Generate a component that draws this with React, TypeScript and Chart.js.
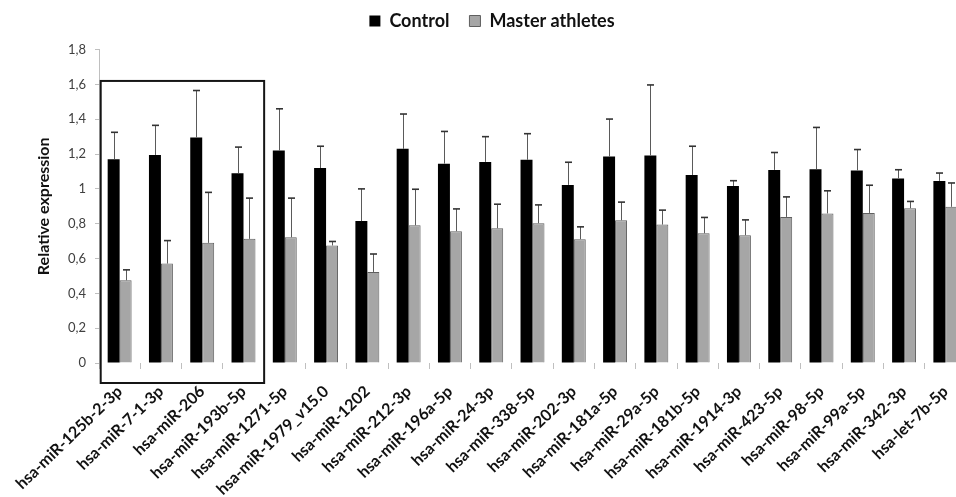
import React, { useEffect, useRef } from "react";
import { Chart, registerables } from "chart.js";

Chart.register(...registerables);

const CATEGORIES = [
  "hsa-miR-125b-2-3p",
  "hsa-miR-7-1-3p",
  "hsa-miR-206",
  "hsa-miR-193b-5p",
  "hsa-miR-1271-5p",
  "hsa-miR-1979_v15.0",
  "hsa-miR-1202",
  "hsa-miR-212-3p",
  "hsa-miR-196a-5p",
  "hsa-miR-24-3p",
  "hsa-miR-338-5p",
  "hsa-miR-202-3p",
  "hsa-miR-181a-5p",
  "hsa-miR-29a-5p",
  "hsa-miR-181b-5p",
  "hsa-miR-1914-3p",
  "hsa-miR-423-5p",
  "hsa-miR-98-5p",
  "hsa-miR-99a-5p",
  "hsa-miR-342-3p",
  "hsa-let-7b-5p",
];

const CONTROL = [
  1.17, 1.195, 1.295, 1.09, 1.22, 1.12, 0.815, 1.23, 1.145, 1.155, 1.167,
  1.023, 1.186, 1.192, 1.08, 1.017, 1.109, 1.113, 1.106, 1.06, 1.046,
];
const CONTROL_ERR = [
  0.155, 0.17, 0.27, 0.15, 0.24, 0.125, 0.185, 0.2, 0.185, 0.145, 0.15, 0.13,
  0.215, 0.405, 0.165, 0.03, 0.1, 0.24, 0.12, 0.05, 0.045,
];

const MASTER = [
  0.475, 0.571, 0.69, 0.713, 0.722, 0.675, 0.523, 0.791, 0.757, 0.774, 0.803,
  0.711, 0.82, 0.795, 0.745, 0.734, 0.839, 0.859, 0.862, 0.889, 0.897,
];
const MASTER_ERR = [
  0.06, 0.132, 0.29, 0.234, 0.225, 0.023, 0.103, 0.207, 0.128, 0.138, 0.105,
  0.071, 0.104, 0.083, 0.091, 0.088, 0.115, 0.13, 0.159, 0.039, 0.137,
];

const Y_TICK_LABELS = ["0", "0,2", "0,4", "0,6", "0,8", "1", "1,2", "1,4", "1,6", "1,8"];

// highlighted group: first four miRNAs, box top value
const BOX_FIRST = 0;
const BOX_LAST = 3;
const BOX_TOP = 1.62;

const FONT = "Lato, 'Open Sans', sans-serif";

const ERRORS = [CONTROL_ERR, MASTER_ERR];

const extrasPlugin = {
  id: "extras",
  afterDatasetsDraw(chart: any) {
    const { ctx } = chart;
    const x = chart.scales.x;
    const y = chart.scales.y;
    ctx.save();
    // error bars (upper only)
    chart.data.datasets.forEach((ds: any, di: number) => {
      const meta = chart.getDatasetMeta(di);
      const errs = ERRORS[di];
      meta.data.forEach((bar: any, i: number) => {
        const v = ds.data[i];
        const e = errs[i];
        const px = Math.round(bar.x) + 0.5;
        const top = y.getPixelForValue(v + e);
        const base = y.getPixelForValue(v);
        ctx.strokeStyle = "#5a5a5a";
        ctx.lineWidth = 1;
        ctx.beginPath();
        ctx.moveTo(px, base);
        ctx.lineTo(px, top);
        ctx.stroke();
        ctx.strokeStyle = "#333";
        ctx.lineWidth = 1.6;
        ctx.beginPath();
        ctx.moveTo(px - 3.5, top);
        ctx.lineTo(px + 3.5, top);
        ctx.stroke();
      });
    });
    // y axis extension below zero
    ctx.strokeStyle = "#bfbfbf";
    ctx.lineWidth = 1;
    ctx.beginPath();
    ctx.moveTo(x.left + 0.5, y.bottom);
    ctx.lineTo(x.left + 0.5, y.bottom + 6);
    ctx.stroke();
    // highlight box
    const cw = x.width / CATEGORIES.length;
    const left = x.getPixelForValue(BOX_FIRST) - cw / 2 + 1.7;
    const right = x.getPixelForValue(BOX_LAST) + cw / 2;
    const top = y.getPixelForValue(BOX_TOP);
    const bottom = y.getPixelForValue(0) + 20;
    ctx.strokeStyle = "#151515";
    ctx.lineWidth = 2;
    ctx.strokeRect(left, top, right - left, bottom - top);
    ctx.restore();
  },
};

export default function App() {
  const ref = useRef<HTMLCanvasElement>(null);
  useEffect(() => {
    if (!ref.current) return;
    const chart = new Chart(ref.current, {
      type: "bar",
      data: {
        labels: CATEGORIES,
        datasets: [
          {
            label: "Control",
            data: CONTROL,
            backgroundColor: "#000000",
            borderWidth: 0,
            categoryPercentage: 0.58,
            barPercentage: 1,
          },
          {
            label: "Master athletes",
            data: MASTER,
            backgroundColor: "#a6a6a6",
            borderColor: "#5f5f5f",
            borderWidth: 1,
            categoryPercentage: 0.58,
            barPercentage: 1,
          },
        ],
      },
      options: {
        responsive: false,
        animation: false,
        layout: { padding: { left: 18, right: 16, top: -8, bottom: 0 } },
        plugins: {
          legend: {
            position: "top",
            labels: {
              boxWidth: 11,
              boxHeight: 11,
              padding: 20,
              color: "#111",
              font: { family: FONT, size: 18, weight: "bold" },
            },
          },
          subtitle: {
            display: true,
            text: "",
            position: "top",
            weight: 500,
            padding: 0,
            font: { size: 8 },
          },
          tooltip: { enabled: false },
        },
        scales: {
          x: {
            afterFit: (s: any) => {
              s.height = 134;
            },
            grid: {
              display: true,
              drawOnChartArea: false,
              drawTicks: true,
              tickLength: 6,
              color: "#bfbfbf",
              offset: true,
            },
            border: { display: false },
            ticks: {
              autoSkip: false,
              minRotation: 44,
              maxRotation: 44,
              padding: 13,
              color: "#111",
              font: { family: FONT, size: 16, weight: "bold" },
            },
          },
          y: {
            min: 0,
            max: 1.8,
            afterFit: (s: any) => {
              s.width = 81;
            },
            grid: {
              display: true,
              drawOnChartArea: false,
              drawTicks: true,
              tickLength: 4,
              color: "#bfbfbf",
            },
            border: { display: true, color: "#bfbfbf" },
            ticks: {
              stepSize: 0.2,
              padding: 9,
              color: "#404040",
              font: { family: FONT, size: 13 },
              callback: (_v: any, i: number) => Y_TICK_LABELS[i],
            },
            title: {
              display: true,
              text: "Relative expression",
              color: "#111",
              padding: { top: 16, bottom: 0 },
              font: { family: FONT, size: 16, weight: "bold" },
            },
          },
        },
      },
      plugins: [extrasPlugin],
    });
    return () => chart.destroy();
  }, []);
  return (
    <div
      style={{
        position: "fixed",
        left: 0,
        top: 0,
        width: 956,
        height: 497,
        overflow: "hidden",
        background: "#fff",
      }}
    >
      <canvas ref={ref} width={982} height={497} style={{ width: 982, height: 497 }} />
    </div>
  );
}
